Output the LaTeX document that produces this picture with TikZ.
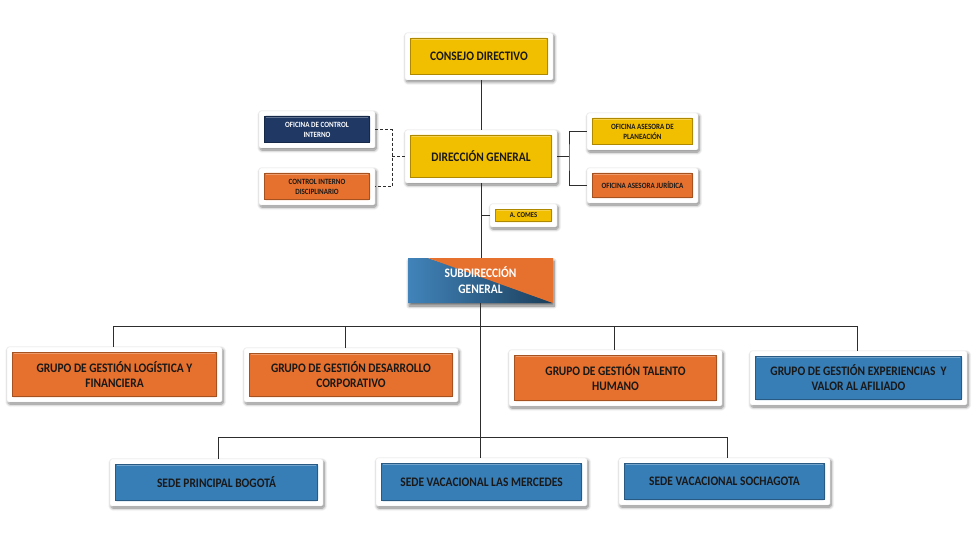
\documentclass[tikz,border=0pt]{standalone}
\usepackage{fontspec}
\setmainfont{Carlito}[FakeStretch=0.88]
\usetikzlibrary{shadows.blur}
\definecolor{cyel}{RGB}{242,190,0}
\definecolor{cora}{RGB}{230,112,45}
\definecolor{cblu}{RGB}{55,125,182}
\definecolor{cnav}{RGB}{31,56,100}
\definecolor{ctxt}{RGB}{25,25,25}
\definecolor{cline}{RGB}{45,45,45}
\tikzset{
  obox/.style={fill=white, draw=black!10, line width=0.4pt, rounded corners=1.5pt, inner sep=0pt, align=center,
    font=\bfseries\fontsize{13}{15}\selectfont, text=ctxt,
    blur shadow={shadow xshift=1.2pt, shadow yshift=-2pt, shadow blur radius=3pt, shadow blur steps=8, shadow opacity=50},
    path picture={
      \fill[#1] ([shift={(5pt,5pt)}]path picture bounding box.south west) rectangle ([shift={(-5pt,-5pt)}]path picture bounding box.north east);
      \draw[#1!72!black, line width=1.2pt, sharp corners] ([shift={(5.6pt,5.6pt)}]path picture bounding box.south west) rectangle ([shift={(-5.6pt,-5.6pt)}]path picture bounding box.north east);
      \draw[white, opacity=0.3, line width=0.7pt, sharp corners] ([shift={(6.8pt,-6.8pt)}]path picture bounding box.north west) -- ([shift={(-6.8pt,-6.8pt)}]path picture bounding box.north east);
    }},
  smalltext/.style={font=\bfseries\fontsize{8}{10}\selectfont},
  sgbox/.style={inner sep=0pt, align=center, text=white,
    font=\bfseries\fontsize{13}{16}\selectfont,
    blur shadow={shadow xshift=1pt, shadow yshift=-3pt, shadow blur radius=3pt, shadow blur steps=8, shadow opacity=55},
    path picture={
      \begin{scope}
      \clip (path picture bounding box.south west) -- (path picture bounding box.north west) -- ([xshift=20pt]path picture bounding box.north west) -- (path picture bounding box.south east) -- cycle;
      \shade[left color=cblu!95!white, right color=cblu!50!black] (path picture bounding box.south west) rectangle (path picture bounding box.north east);
      \end{scope}
      \fill[cora] ([xshift=20pt]path picture bounding box.north west) -- (path picture bounding box.north east) -- (path picture bounding box.south east) -- cycle;
    }},
  link/.style={draw=cline, line width=0.9pt},
}
\begin{document}
\begin{tikzpicture}[x=1pt, y=-1pt]
\useasboundingbox (0,0) rectangle (979,540);

% nodes
\node[obox=cyel, minimum width=148pt, minimum height=47pt] (cd) at (479,56.5) {CONSEJO DIRECTIVO};
\node[obox=cyel, minimum width=152pt, minimum height=53pt] (dg) at (481,156.5) {DIRECCIÓN GENERAL};
\node[obox=cnav, smalltext, text=white, minimum width=116pt, minimum height=37pt] (oci) at (317,129.5) {OFICINA DE CONTROL\\INTERNO};
\node[obox=cora, smalltext, minimum width=116pt, minimum height=37pt] (cid) at (317,186.5) {CONTROL INTERNO\\DISCIPLINARIO};
\node[obox=cyel, smalltext, minimum width=111pt, minimum height=37pt] (oap) at (642.5,131.5) {OFICINA ASESORA DE\\PLANEACIÓN};
\node[obox=cora, smalltext, minimum width=111pt, minimum height=35pt] (oaj) at (642.5,185.5) {OFICINA ASESORA JURÍDICA};
\node[obox=cyel, font=\bfseries\fontsize{7.5}{9}\selectfont, minimum width=67pt, minimum height=23pt] (comes) at (523.5,215.5) {A. COMES};
\node[sgbox, minimum width=145pt, minimum height=45pt] (sg) at (480.5,280.5) {SUBDIRECCIÓN\\GENERAL};

\node[obox=cora, minimum width=215pt, minimum height=55pt] (g1) at (114.5,374.5) {GRUPO DE GESTIÓN LOGÍSTICA Y\\FINANCIERA};
\node[obox=cora, minimum width=214pt, minimum height=54pt] (g2) at (351,375) {GRUPO DE GESTIÓN DESARROLLO\\CORPORATIVO};
\node[obox=cora, minimum width=213pt, minimum height=56pt] (g3) at (615.5,378) {GRUPO DE GESTIÓN TALENTO\\HUMANO};
\node[obox=cblu, minimum width=217pt, minimum height=54pt] (g4) at (858.5,378) {GRUPO DE GESTIÓN EXPERIENCIAS\ \ Y\\VALOR AL AFILIADO};

\node[obox=cblu, minimum width=213pt, minimum height=47pt] (s1) at (216.5,482.5) {SEDE PRINCIPAL BOGOTÁ};
\node[obox=cblu, minimum width=211pt, minimum height=48pt] (s2) at (481.5,482) {SEDE VACACIONAL LAS MERCEDES};
\node[obox=cblu, minimum width=211pt, minimum height=47pt] (s3) at (724.5,481.5) {SEDE VACACIONAL SOCHAGOTA};

% connectors
\draw[link] (dg.north) -- (dg.north |- cd.south);
\draw[link] (dg.south) -- (dg.south |- sg.north);
\draw[link] (dg.south |- comes.west) -- (comes.west);
\coordinate (rb) at (569,156.5);
\draw[link] (dg.east) -- (rb);
\draw[link] (oap.west) -| (rb) |- (oaj.west);
\coordinate (lb) at (392,156.5);
\draw[link, dash pattern=on 3pt off 2pt] (dg.west) -- (lb);
\draw[link, dash pattern=on 3pt off 2pt] (oci.east) -| (lb) |- (cid.east);

\coordinate (d1) at (113,326);
\coordinate (d2) at (345,326);
\coordinate (d3) at (614,326);
\coordinate (d4) at (857,326);
\draw[link] (d1) -- (d4);
\draw[link] (d1) -- (d1 |- g1.north);
\draw[link] (d2) -- (d2 |- g2.north);
\draw[link] (d3) -- (d3 |- g3.north);
\draw[link] (d4) -- (d4 |- g4.north);

\coordinate (e1) at (218,437);
\coordinate (e3) at (727,437);
\draw[link] (sg.south) -- (sg.south |- s2.north);
\draw[link] (e1) -- (e3);
\draw[link] (e1) -- (e1 |- s1.north);
\draw[link] (e3) -- (e3 |- s3.north);
\end{tikzpicture}
\end{document}
